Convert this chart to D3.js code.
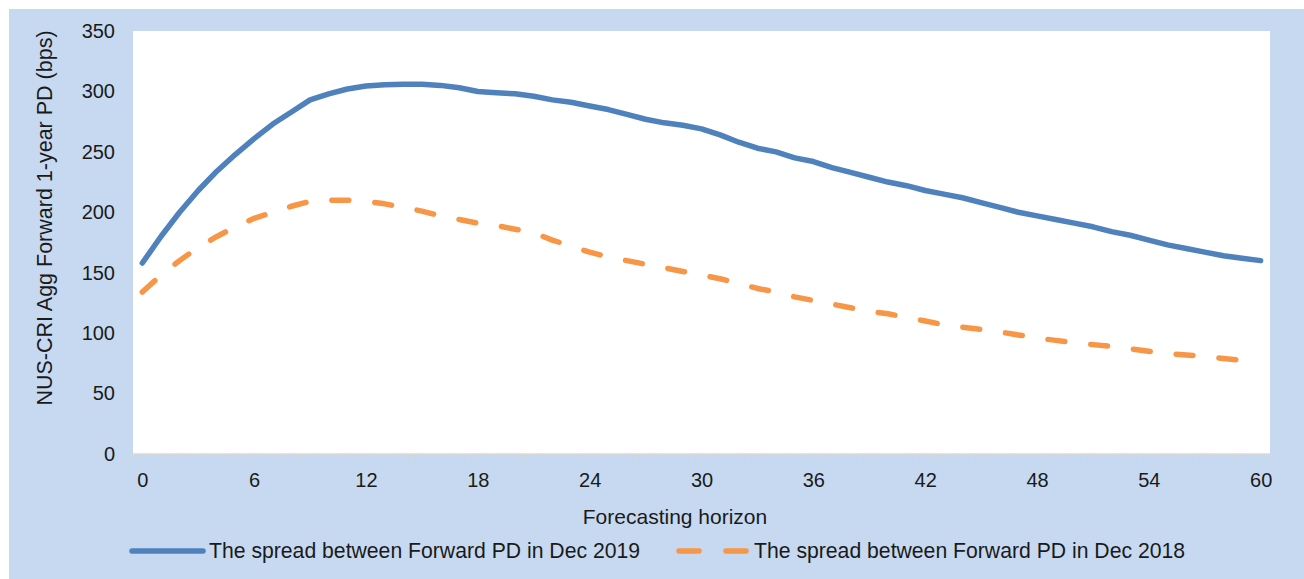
<!DOCTYPE html>
<html>
<head>
<meta charset="utf-8">
<script src="https://cdn.jsdelivr.net/npm/d3@7"></script>
<style>
  body { margin: 0; background: #fff; }
  text { font-family: "Liberation Sans", Arial, sans-serif; fill: #1a1a1a; }
</style>
</head>
<body>
<svg class="chart"></svg>
<script>
const W = 1304;
const H = 579;
const plot = {left: 133, right: 1270, top: 31, bottom: 454};

// forecasting horizon in months
const horizon = d3.range(0, 61);
const xTickLabels = [0, 6, 12, 18, 24, 30, 36, 42, 48, 54, 60];
const yTickLabels = [0, 50, 100, 150, 200, 250, 300, 350];

const spread2019 = [
  158, 180, 200, 218, 234, 248, 261, 273, 283, 293,
  298, 302, 304.5, 305.5, 306, 306, 305, 303, 300, 299,
  298, 296, 293, 291, 288, 285, 281, 277, 274, 272,
  269, 264, 258, 253, 250, 245, 242, 237, 233, 229,
  225, 222, 218, 215, 212, 208, 204, 200, 197, 194,
  191, 188, 184, 181, 177, 173, 170, 167, 164, 162,
  160
];

const spread2018 = [
  134, 148, 160, 171, 180, 188, 195, 200, 205, 209,
  210, 210, 209, 207, 204, 201, 197, 194, 191, 189,
  186, 183, 177, 172, 167, 163, 160, 157, 154, 151,
  148, 145, 141, 137, 134, 130, 127, 124, 121, 118,
  116, 113, 110, 107, 105, 103, 101, 98.5, 96, 94,
  92, 90.5, 89, 87, 85, 83, 82, 80.5, 79, 77.5,
  76
];

const seriesNames = [
  "The spread between Forward PD in Dec 2019",
  "The spread between Forward PD in Dec 2018"
];

const blue = "#4f81bd";
const orange = "#f79646";

const svg = d3.select(".chart")
    .attr("width", W)
    .attr("height", H);

// chart area background
svg.append("rect")
    .attr("x", 9).attr("y", 9)
    .attr("width", W - 9).attr("height", H - 9)
    .attr("fill", "#c6d9f0");

svg.append("rect")
    .attr("x", plot.left).attr("y", plot.top)
    .attr("width", plot.right - plot.left)
    .attr("height", plot.bottom - plot.top)
    .attr("fill", "#fff");

const x = d3.scalePoint()
    .domain(horizon)
    .range([plot.left, plot.right])
    .padding(0.5);

const y = d3.scaleLinear()
    .domain([0, 350])
    .range([plot.bottom, plot.top]);

const step = x.step();

// category axis line + small ticks between categories
svg.append("line")
    .attr("x1", plot.left).attr("x2", plot.right)
    .attr("y1", plot.bottom).attr("y2", plot.bottom)
    .attr("stroke", "#d9d9d9").attr("stroke-width", 1.5);

svg.selectAll(".minor")
    .data(horizon.concat([horizon.length]))
  .enter().append("line")
    .attr("class", "minor")
    .attr("x1", (d) => plot.left + d * step)
    .attr("x2", (d) => plot.left + d * step)
    .attr("y1", plot.bottom)
    .attr("y2", plot.bottom + 5)
    .attr("stroke", "#d9d9d9")
    .attr("stroke-width", 1);

const xAxis = svg.append("g")
    .attr("transform", `translate(0,${ plot.bottom })`)
    .call(d3.axisBottom(x).tickValues(xTickLabels).tickSize(0).tickPadding(19));
xAxis.select(".domain").remove();
xAxis.selectAll("text")
    .attr("font-size", 20)
    .attr("font-family", "Liberation Sans, Arial, sans-serif")
    .attr("fill", "#1a1a1a");

const yAxis = svg.append("g")
    .attr("transform", `translate(${ plot.left },0)`)
    .call(d3.axisLeft(y).tickValues(yTickLabels).tickSize(0).tickPadding(18));
yAxis.select(".domain").remove();
yAxis.selectAll("text")
    .attr("font-size", 20)
    .attr("font-family", "Liberation Sans, Arial, sans-serif")
    .attr("fill", "#1a1a1a");

// axis titles
svg.append("text")
    .attr("x", 675)
    .attr("y", 524)
    .attr("text-anchor", "middle")
    .attr("font-size", 21)
    .text("Forecasting horizon");

svg.append("text")
    .attr("transform", "translate(52,218) rotate(-90)")
    .attr("text-anchor", "middle")
    .attr("font-size", 21.5)
    .text("NUS-CRI Agg Forward 1-year PD (bps)");

// series lines
const line = d3.line()
    .x((d, i) => x(horizon[i]))
    .y((d) => y(d));

svg.append("path")
    .datum(spread2018)
    .attr("d", line)
    .attr("fill", "none")
    .attr("stroke", orange)
    .attr("stroke-width", 5.5)
    .attr("stroke-linecap", "round")
    .attr("stroke-linejoin", "round")
    .attr("stroke-dasharray", "17 26");

svg.append("path")
    .datum(spread2019)
    .attr("d", line)
    .attr("fill", "none")
    .attr("stroke", blue)
    .attr("stroke-width", 5.5)
    .attr("stroke-linecap", "round")
    .attr("stroke-linejoin", "round");

// legend
const ly = 551;
svg.append("line")
    .attr("x1", 132).attr("x2", 203)
    .attr("y1", ly).attr("y2", ly)
    .attr("stroke", blue).attr("stroke-width", 5.5)
    .attr("stroke-linecap", "round");
svg.append("text")
    .attr("x", 209).attr("y", ly + 7)
    .attr("font-size", 21.2)
    .text(seriesNames[0]);

svg.append("line")
    .attr("x1", 679).attr("x2", 746)
    .attr("y1", ly).attr("y2", ly)
    .attr("stroke", orange).attr("stroke-width", 5.5)
    .attr("stroke-linecap", "round")
    .attr("stroke-dasharray", "20 27");
svg.append("text")
    .attr("x", 754).attr("y", ly + 7)
    .attr("font-size", 21.2)
    .text(seriesNames[1]);
</script>
</body>
</html>
